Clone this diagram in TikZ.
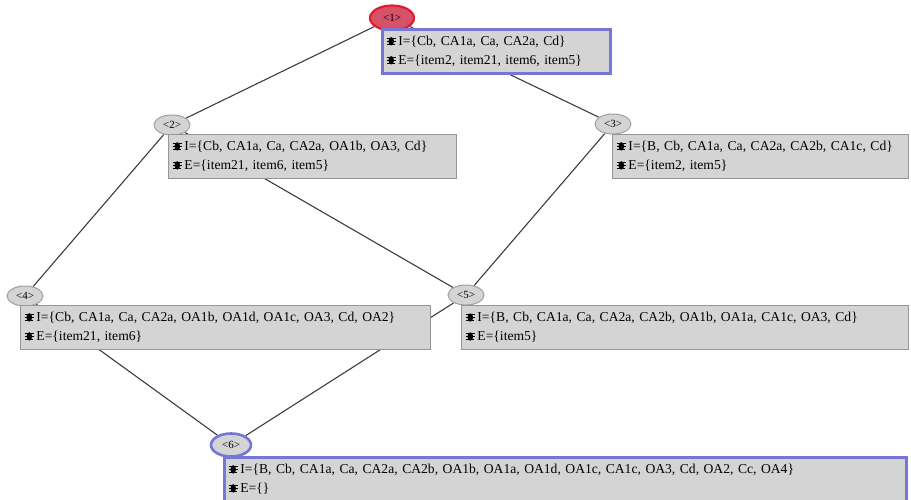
\documentclass[tikz,border=0pt]{standalone}
\usepackage{fontspec}
\setmainfont{Liberation Serif}
\usepackage{tikz}
\usetikzlibrary{shapes.geometric}
\usetikzlibrary{backgrounds}

\definecolor{boxgray}{RGB}{212,212,212}
\definecolor{framegray}{RGB}{150,150,150}
\definecolor{frameblue}{RGB}{118,118,214}
\definecolor{tagred}{RGB}{226,30,44}
\definecolor{tagpink}{RGB}{214,82,104}
\definecolor{taggray}{RGB}{160,160,160}
\definecolor{linkgray}{RGB}{60,60,60}

\newcommand{\bug}{\tikz[x=1pt,y=1pt,baseline=0pt]{\fill[black] (0,4.2) ellipse (2.8pt and 4.2pt); \draw[black,line width=0.8pt] (-4.5,7.5)--(4.5,7.5) (-4.5,4.3)--(4.5,4.3) (-4,1)--(4,1);}}

\tikzset{
	setbox/.style={draw=framegray, fill=boxgray, line width=0.8pt, anchor=north west, align=left, inner xsep=4pt, inner ysep=0pt, minimum height=44pt, font=\fontsize{13.6}{19}\selectfont},
	hotbox/.style={setbox, draw=frameblue, line width=2.6pt},
	tag/.style={ellipse, draw=taggray, fill=boxgray, line width=1pt, minimum width=36pt, minimum height=20pt, inner sep=0pt, font=\fontsize{11}{11}\selectfont},
	hottag/.style={tag, draw=tagred, fill=tagpink, line width=2.2pt, minimum width=44pt, minimum height=25pt},
	bluetag/.style={tag, draw=frameblue, line width=2.6pt, minimum width=40pt, minimum height=23pt},
	link/.style={draw=linkgray, line width=1.1pt}
}

\begin{document}
\begin{tikzpicture}[x=1pt, y=-1pt]
				\useasboundingbox (0,0) rectangle (911,499);
				% Tags:
				\node[hottag] (L1) at (392,18) {<1>};
				\node[tag] (L2) at (172,125) {<2>};
				\node[tag] (L3) at (613,124) {<3>};
				\node[tag] (L4) at (25,296) {<4>};
				\node[tag] (L5) at (466,295) {<5>};
				\node[bluetag] (L6) at (231,445) {<6>};
				% Sets:
				\node[hotbox, text width=220pt] (S1) at (381,28) {\bug\,I=\{Cb, CA1a, Ca, CA2a, Cd\}\\ \bug\,E=\{item2, item21, item6, item5\}};
				\node[setbox, text width=280pt] (S2) at (168,134) {\bug\,I=\{Cb, CA1a, Ca, CA2a, OA1b, OA3, Cd\}\\ \bug\,E=\{item21, item6, item5\}};
				\node[setbox, text width=288pt] (S3) at (612,134) {\bug\,I=\{B, Cb, CA1a, Ca, CA2a, CA2b, CA1c, Cd\}\\ \bug\,E=\{item2, item5\}};
				\node[setbox, text width=402pt] (S4) at (20,305) {\bug\,I=\{Cb, CA1a, Ca, CA2a, OA1b, OA1d, OA1c, OA3, Cd, OA2\}\\ \bug\,E=\{item21, item6\}};
				\node[setbox, text width=439pt] (S5) at (461,305) {\bug\,I=\{B, Cb, CA1a, Ca, CA2a, CA2b, OA1b, OA1a, CA1c, OA3, Cd\}\\ \bug\,E=\{item5\}};
				\node[hotbox, text width=674pt] (S6) at (223,456) {\bug\,I=\{B, Cb, CA1a, Ca, CA2a, CA2b, OA1b, OA1a, OA1d, OA1c, CA1c, OA3, Cd, OA2, Cc, OA4\}\\ \bug\,E=\{\}};
				% Links:
				\begin{scope}[on background layer]
				\draw[link] (L1) -- (L2);
				\draw[link] (L1) -- (L3);
				\draw[link] (L2) -- (L4);
				\draw[link] (L2) -- (L5);
				\draw[link] (L3) -- (L5);
				\draw[link] (L4) -- (L6);
				\draw[link] (L5) -- (L6);
				\end{scope}
			\end{tikzpicture}
\end{document}
